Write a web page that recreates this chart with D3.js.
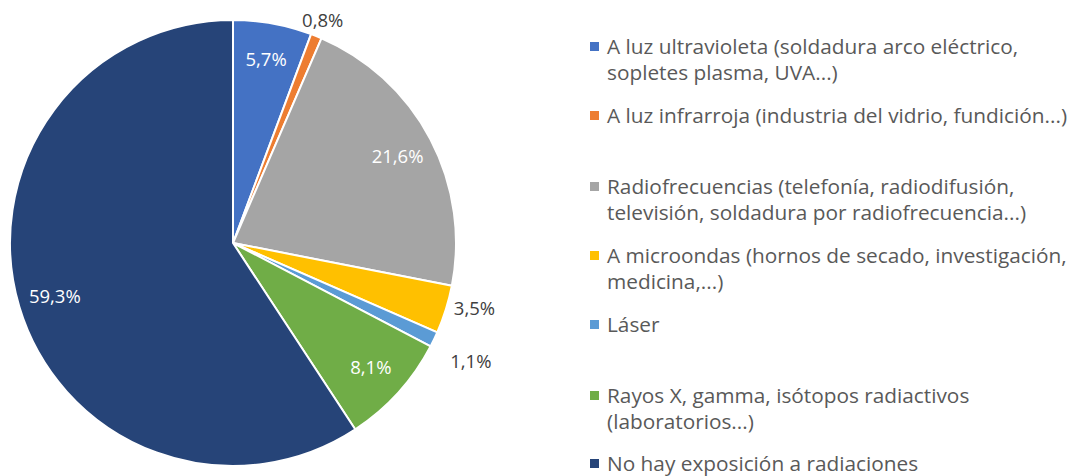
<!DOCTYPE html>
<html><head><meta charset="utf-8">
<script src="https://cdn.jsdelivr.net/npm/d3@7"></script>
<style>body{margin:0;background:#fff}svg{display:block}text{font-family:"Open Sans","Noto Sans",sans-serif}</style>
</head><body>
<svg id="c" width="1081" height="476"></svg>
<script>
const categories = [
  "A luz ultravioleta (soldadura arco eléctrico,|sopletes plasma, UVA...)",
  "A luz infrarroja (industria del vidrio, fundición...)",
  "Radiofrecuencias (telefonía, radiodifusión,|televisión, soldadura por radiofrecuencia...)",
  "A microondas (hornos de secado, investigación,|medicina,...)",
  "Láser",
  "Rayos X, gamma, isótopos radiactivos|(laboratorios...)",
  "No hay exposición a radiaciones"
];
const values = [5.7, 0.8, 21.6, 3.5, 1.1, 8.1, 59.3];
const valueLabels = ["5,7%", "0,8%", "21,6%", "3,5%", "1,1%", "8,1%", "59,3%"];
const labelInside = [true, false, true, false, false, true, true];
const colors = ["#4472C4", "#ED7D31", "#A5A5A5", "#FFC000", "#5B9BD5", "#70AD47", "#264478"];
const legendRowTops = [47, 116, 187, 256, 325, 396, 464];

const svg = d3.select("#c");
const cx = 233, cy = 243, R = 223;
const pie = d3.pie().sort(null).value(d => d)(values);
const arc = d3.arc().innerRadius(0).outerRadius(R);
const g = svg.append("g").attr("transform", `translate(${cx},${cy})`);
g.selectAll("path").data(pie).join("path")
  .attr("d", arc).attr("fill", (d, i) => colors[i])
  .attr("stroke", "#fff").attr("stroke-width", 2).attr("stroke-linejoin", "round");

pie.forEach((d, i) => {
  const a = (d.startAngle + d.endAngle) / 2;
  let r;
  if (labelInside[i]) r = 186;
  else r = 232 + 22 * Math.abs(Math.sin(a)) + (i === 4 ? 12 : 0);
  const x = Math.sin(a) * r;
  const y = -Math.cos(a) * r - (i === 3 ? 10 : 0) + (i === 4 ? 4 : 0);
  g.append("text").attr("x", x).attr("y", y).attr("dy", "0.35em")
    .attr("text-anchor", "middle").attr("font-size", 18.5)
    .attr("fill", labelInside[i] ? "#fff" : "#404040")
    .text(valueLabels[i]);
});

const lg = svg.append("g");
categories.forEach((c, i) => {
  const lines = c.split("|");
  const y0 = legendRowTops[i];
  lg.append("rect").attr("x", 590).attr("y", y0 - 5).attr("width", 9).attr("height", 9).attr("fill", colors[i]);
  lines.forEach((t, j) => {
    lg.append("text").attr("x", 607).attr("y", y0 + j * 26).attr("dy", "0.33em")
      .attr("font-size", 20.8).attr("fill", "#595959").text(t);
  });
});
</script>
</body></html>
